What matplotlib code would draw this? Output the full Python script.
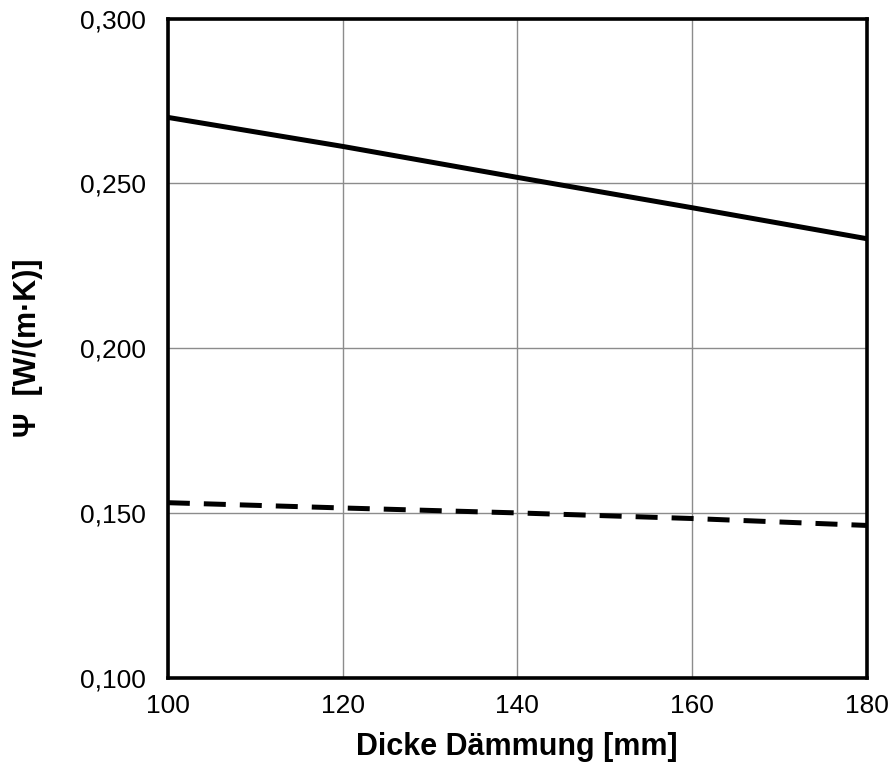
import matplotlib
matplotlib.use("Agg")
import matplotlib.pyplot as plt
from matplotlib.ticker import FuncFormatter

plt.rcParams['font.family'] = ['Liberation Sans', 'DejaVu Sans']

thickness = [100, 120, 140, 160, 180]
psi_solid = [0.270, 0.2612, 0.2518, 0.2426, 0.2332]
psi_dashed = [0.1531, 0.1515, 0.1500, 0.1483, 0.1462]
x_ticks = [100, 120, 140, 160, 180]
y_ticks = [0.100, 0.150, 0.200, 0.250, 0.300]

fig = plt.figure(figsize=(8.88, 7.71), dpi=100)
ax = fig.add_axes([0.189, 0.121, 0.787, 0.855])

ax.plot(thickness, psi_solid, color='black', lw=3.6, solid_capstyle='butt', zorder=3)
ax.plot(thickness, psi_dashed, color='black', lw=3.6, dashes=(4.4, 2.8), zorder=3)

ax.set_xlim(100, 180)
ax.set_ylim(0.100, 0.300)
ax.set_xticks(x_ticks)
ax.set_yticks(y_ticks)
ax.yaxis.set_major_formatter(FuncFormatter(lambda v, p: f"{v:.3f}".replace('.', ',')))
ax.grid(True, color='#8c8c8c', lw=1.0)
ax.set_axisbelow(True)
for s in ax.spines.values():
    s.set_linewidth(2.6)
    s.set_color('black')
ax.tick_params(length=0, labelsize=19)
ax.tick_params(axis='x', pad=12)
ax.tick_params(axis='y', pad=16)
ax.set_xlabel('Dicke Dämmung [mm]', fontsize=22, fontweight='bold', labelpad=10)
ax.set_ylabel('Ψ  [W/(m·K)]', fontsize=22, fontweight='bold', labelpad=26)

fig.savefig('out.png', dpi=100)
